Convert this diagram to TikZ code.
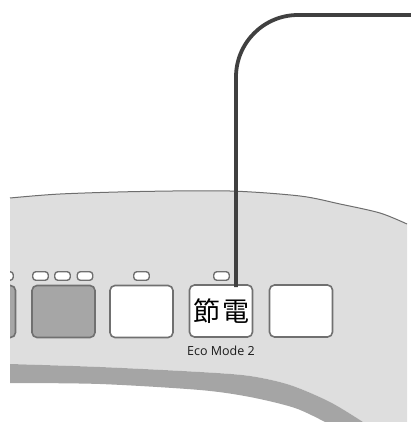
\documentclass[tikz,border=0pt]{standalone}
\usepackage{fontspec}
\setmainfont{Open Sans}
\newfontfamily\cjkfont{Noto Sans CJK JP}
\usepackage{tikz}
\usetikzlibrary{calc}
\definecolor{panel_gray}{HTML}{DEDEDE}
\definecolor{panel_edge}{HTML}{6E6E6E}
\definecolor{band_gray}{HTML}{A5A5A5}
\definecolor{key_edge}{HTML}{707070}
\definecolor{key_gray}{HTML}{A6A6A6}
\definecolor{leader_gray}{HTML}{404040}
\definecolor{text_dark}{HTML}{1A1A1A}

\begin{document}
\begin{tikzpicture}[x=1pt,y=-1pt,
    key/.style={draw=key_edge,line width=1.6pt,rounded corners=5pt,
        minimum width=63pt,minimum height=52pt,inner sep=0pt},
    lamp/.style={draw=key_edge,line width=1.4pt,fill=white,rounded corners=3pt,
        minimum width=15.5pt,minimum height=8.5pt,inner sep=0pt},
    leader/.style={draw=leader_gray,line width=3.8pt,rounded corners=62pt},
    caption/.style={text=text_dark,font=\fontsize{12.5}{13}\selectfont,inner sep=0pt}]

    \useasboundingbox (0,0) rectangle (411,422);

    % panel and front band
    \fill[panel_gray] plot[smooth] coordinates {(10,198) (60,194) (140,191.5)
            (230,191) (300,196) (340,204) (380,213) (407,224)}
        -- (407,422) -- (363,422)
        -- plot[smooth] coordinates {(363,422) (330,402) (290,385) (250,376)
            (200,372) (100,367) (10,364)} -- cycle;
    \fill[band_gray] plot[smooth] coordinates {(10,364) (100,367) (200,372)
            (250,376) (290,385) (330,402) (363,422)}
        -- (325,422)
        -- plot[smooth] coordinates {(325,422) (295,408) (250,397) (200,390)
            (100,384) (10,383)} -- cycle;
    \draw[panel_edge,line width=1pt] plot[smooth] coordinates {(10,198) (60,194)
            (140,191.5) (230,191) (300,196) (340,204) (380,213) (407,224)};

    \begin{scope}
        \clip (10,0) rectangle (407,422);
        % keys
        \node[key,fill=key_gray] (key_a) at (-16,311.5) {};
        \node[key,fill=key_gray] (key_b) at (63.5,311.5) {};
        \node[key,fill=white] (key_c) at (141.5,311.5) {};
        \node[key,fill=white] (eco) at (221,311) {\cjkfont\color{black}%
            \fontsize{27}{27}\selectfont 節\hspace{2pt}電};
        \node[key,fill=white] (key_e) at (301,311) {};
        % lamps
        \node[lamp] (lamp_a) at (5.5,276) {};
        \node[lamp] (lamp_b1) at (40.5,276) {};
        \node[lamp] (lamp_b2) at (62.5,276) {};
        \node[lamp] (lamp_b3) at (85,276) {};
        \node[lamp] (lamp_c) at (141.5,276) {};
        \node[lamp] (lamp_eco) at (221.5,276) {};
    \end{scope}

    \node[caption,anchor=base] (eco_label) at (221,355) {Eco Mode 2};

    % leader to the callout
    \coordinate (lead_end) at (411,15);
    \draw[leader] ($(eco.north)+(15,3)$) |- (lead_end);

\end{tikzpicture}
\end{document}
